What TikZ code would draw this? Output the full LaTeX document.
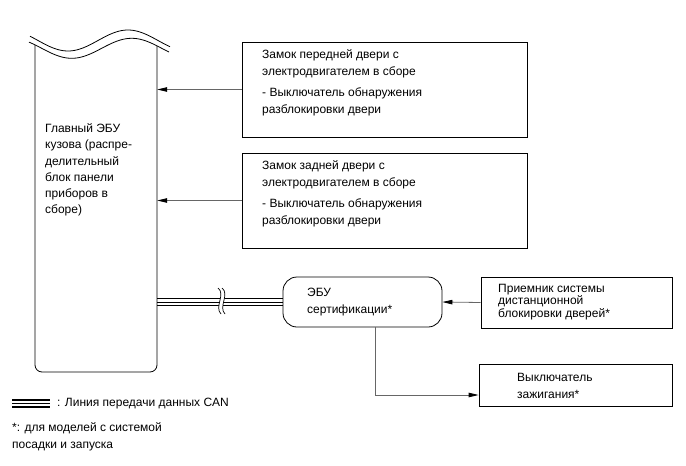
\documentclass[tikz,border=0pt]{standalone}
\usepackage{fontspec}
\setmainfont{Liberation Sans}
\usetikzlibrary{arrows.meta}
\begin{document}
\begin{tikzpicture}[x=1pt,y=-1pt,
  txt/.style={anchor=base west,inner sep=0pt,font=\fontsize{12}{14}\selectfont},
  boxshape/.style={draw=black,line width=0.8pt,rectangle,inner sep=0pt},
  conn/.style={draw=black!60,line width=0.8pt,-{Triangle[length=10pt,width=4.5pt,black]}},
  canthick/.style={line width=1.7pt,black},
  canthin/.style={line width=0.9pt,black}]
\useasboundingbox (0,0) rectangle (686,466);
% main body ECU outline
\node[minimum width=122pt,minimum height=324pt,inner sep=0pt] (bcm) at (96,210) {};
\draw[line width=0.8pt,domain=30:170,samples=70,smooth] plot (\x,{40.5+10.5*cos((\x-68)*3)});
\draw[line width=0.8pt,domain=29:169,samples=70,smooth] plot (\x,{48.3+10*cos((\x-71.7)*3)});
\draw[line width=0.8pt,rounded corners=7pt] (35,44.9) -- (35,372) -- (157,372) -- (157,45.9);
\node[txt] (b1) at (45,132.7) {Главный ЭБУ};
\node[txt] (b2) at (45,148.9) {кузова (распре-};
\node[txt] (b3) at (45,165.1) {делительный};
\node[txt] (b4) at (45,181.3) {блок панели};
\node[txt] (b5) at (45,197.5) {приборов в};
\node[txt] (b6) at (45,213.7) {сборе)};
% front door lock
\node[boxshape,minimum width=285pt,minimum height=95pt] (front) at (384.5,89.5) {};
\node[txt] (f1) at (262,58.3) {Замок передней двери с};
\node[txt] (f2) at (262,75) {электродвигателем в сборе};
\node[txt] (f3) at (262,96) {- Выключатель обнаружения};
\node[txt] (f4) at (262,113) {разблокировки двери};
% rear door lock
\node[boxshape,minimum width=285pt,minimum height=95pt] (rear) at (384.5,200.5) {};
\node[txt] (r1) at (262,169.3) {Замок задней двери с};
\node[txt] (r2) at (262,186) {электродвигателем в сборе};
\node[txt] (r3) at (262,207) {- Выключатель обнаружения};
\node[txt] (r4) at (262,224) {разблокировки двери};
% certification ECU
\node[boxshape,rounded corners=14pt,minimum width=159pt,minimum height=50pt] (cert) at (362.5,302) {};
\node[txt] (c1) at (307,296.7) {ЭБУ};
\node[txt] (c2) at (307,313.3) {сертификации*};
% receiver
\node[boxshape,minimum width=191pt,minimum height=51pt] (recv) at (576.5,302.5) {};
\node[txt] (v1) at (498,292) {Приемник системы};
\node[txt] (v2) at (498,304.8) {дистанционной};
\node[txt] (v3) at (498,317.6) {блокировки дверей*};
% ignition switch
\node[boxshape,minimum width=193pt,minimum height=42pt] (ign) at (575.5,385) {};
\node[txt] (i1) at (517,381.7) {Выключатель};
\node[txt] (i2) at (517,398.3) {зажигания*};
% connectors
\draw[conn] (front.west) -- (front.west -| bcm.east);
\draw[conn] (rear.west) -- (rear.west -| bcm.east);
\draw[conn] (recv.west) -- (cert.east);
\coordinate (cbend) at (375,395);
\draw[conn] (cert.south -| cbend) -- (cbend) -- (cbend -| ign.west);
% CAN line
\coordinate (canl) at (bcm.east |- cert.west);
\draw[canthick] ([yshift=3.4pt]canl) -- ([yshift=3.4pt]cert.west);
\draw[canthin] (canl) -- (cert.west);
\draw[canthick] ([yshift=-3.4pt]canl) -- ([yshift=-3.4pt]cert.west);
\fill[white] (218,288) .. controls (226,294) and (214,307) .. (221,314) -- (225,314) .. controls (218,307) and (230,294) .. (222,288) -- cycle;
\draw[line width=0.7pt] (218,288) .. controls (226,294) and (214,307) .. (221,314);
\draw[line width=0.7pt] (222,288) .. controls (230,294) and (218,307) .. (225,314);
% legend
\coordinate (lg1) at (12,403.3);
\coordinate (lg2) at (50,403.3);
\draw[canthick] ([yshift=3.4pt]lg1) -- ([yshift=3.4pt]lg2);
\draw[canthin] (lg1) -- (lg2);
\draw[canthick] ([yshift=-3.4pt]lg1) -- ([yshift=-3.4pt]lg2);
\node[txt] (lgt) at (57,406.7) {: Линия передачи данных CAN};
\node[txt] (n1) at (12,431.7) {*: для моделей с системой};
\node[txt] (n2) at (12,448.3) {посадки и запуска};
\end{tikzpicture}
\end{document}
